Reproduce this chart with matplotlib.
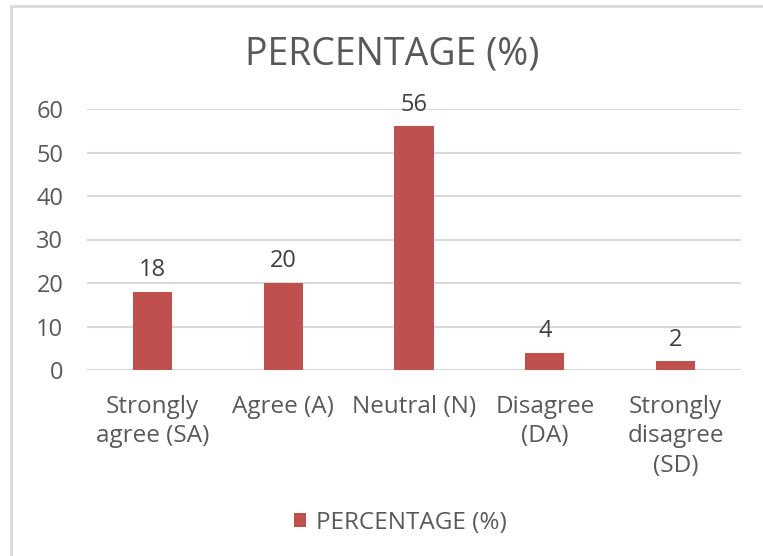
import matplotlib.pyplot as plt
from matplotlib.patches import Rectangle

categories = ['Strongly\nagree (SA)', 'Agree (A)', 'Neutral (N)', 'Disagree\n(DA)',
              'Strongly\ndisagree\n(SD)']
percentage = [18, 20, 56, 4, 2]
yticks = [0, 10, 20, 30, 40, 50, 60]

plt.rcParams['font.family'] = ['Open Sans', 'DejaVu Sans']
gray = '#595959'
bar_color = '#C0504D'

fig = plt.figure(figsize=(7.63, 5.56), dpi=100)
W, H = 763, 556

# chart frame (only left and top edges are visible)
fig.patches.append(Rectangle((11 / W, -0.1), 1.2, 1 - 6 / H + 0.1,
                             transform=fig.transFigure, fill=False,
                             edgecolor='#D9D9D9', linewidth=2))

ax = fig.add_axes([87 / W, 1 - 370 / H, (741 - 87) / W, (370 - 109) / H])
x = range(len(categories))
bars = ax.bar(x, percentage, width=0.3, color=bar_color, zorder=3,
              label='PERCENTAGE (%)')

for xi, v in zip(x, percentage):
    ax.annotate(str(v), (xi, v), xytext=(0, 7), textcoords='offset points',
                ha='center', va='bottom', fontsize=17, color='#404040')

ax.set_xlim(-0.5, len(categories) - 0.5)
ax.set_ylim(0, 60)
ax.set_yticks(yticks)
ax.grid(axis='y', color='#D9D9D9', linewidth=1.5, zorder=0)
for s in ax.spines.values():
    s.set_visible(False)
ax.tick_params(axis='y', length=0, pad=17, labelsize=17, labelcolor=gray)
ax.set_xticks(list(x))
ax.set_xticklabels(categories, fontsize=17.5, color=gray, linespacing=1.3)
ax.tick_params(axis='x', length=0, pad=18)

fig.text(392 / W, 1 - 55 / H, 'PERCENTAGE (%)', ha='center', va='center',
         fontsize=27, color=gray)

fig.legend(handles=[bars], loc='center', bbox_to_anchor=(400 / W, 1 - 523 / H),
           frameon=False, fontsize=17.5, labelcolor=gray, handlelength=0.5,
           handleheight=0.5, handletextpad=0.4)

fig.savefig('out.png', dpi=100)
